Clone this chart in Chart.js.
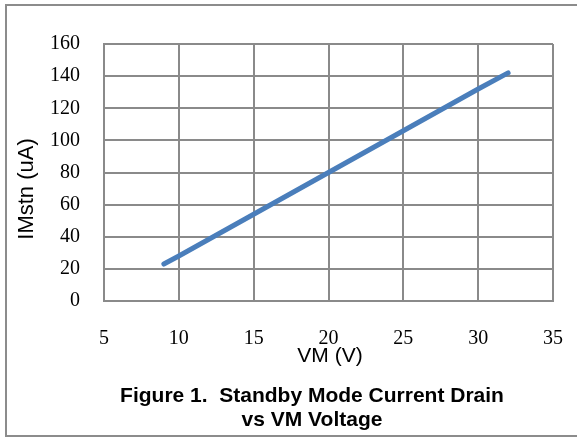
<!DOCTYPE html>
<html>
<head>
<meta charset="utf-8">
<script src="https://cdn.jsdelivr.net/npm/chart.js@4.4.0/dist/chart.umd.min.js"></script>
<style>
  html, body { margin: 0; padding: 0; background: #fff; }
  #wrap { position: relative; width: 577px; height: 439px; }
</style>
</head>
<body>
<div id="wrap"><canvas id="c" width="577" height="439"></canvas></div>
<script>
// ---- data ----
const vmVolts   = [9, 10, 15, 20, 25, 30, 32];
const imstnUA   = [23, 28, 54, 80, 106, 132, 142];
const xTickVals = [5, 10, 15, 20, 25, 30, 35];
const yTickVals = [0, 20, 40, 60, 80, 100, 120, 140, 160];
const yTitle    = 'IMstn (uA)';
const xTitle    = 'VM (V)';
const caption   = ['Figure 1.  Standby Mode Current Drain', 'vs VM Voltage'];

const points = vmVolts.map((v, i) => ({ x: v, y: imstnUA[i] }));

const GRID = '#8a8a8a';
const SANS = '"Liberation Sans", Arial, sans-serif';
const SERIF = '"Liberation Serif", "Times New Roman", serif';

const decor = {
  id: 'decor',
  beforeDraw(chart) {
    const ctx = chart.ctx;
    ctx.save();
    ctx.fillStyle = '#fff';
    ctx.fillRect(0, 0, chart.width, chart.height);
    ctx.fillStyle = '#8c8c8c';
    ctx.fillRect(5, 4, 2, 433);     // left frame
    ctx.fillRect(5, 4, 572, 2);     // top frame
    ctx.fillRect(5, 435, 572, 2);   // bottom frame
    ctx.restore();
  },
  afterDraw(chart) {
    const ctx = chart.ctx;
    ctx.save();
    ctx.fillStyle = '#000';
    ctx.textAlign = 'center';
    ctx.textBaseline = 'middle';
    // y title
    ctx.save();
    ctx.translate(27, 189);
    ctx.rotate(-Math.PI / 2);
    ctx.font = '22px ' + SANS;
    ctx.fillText(yTitle, 0, 0);
    ctx.restore();
    // x title
    ctx.font = '21px ' + SANS;
    ctx.fillText(xTitle, 330, 356);
    // caption
    ctx.font = 'bold 21px ' + SANS;
    ctx.fillText(caption[0], 312, 396);
    ctx.fillText(caption[1], 312, 420);
    ctx.restore();
  }
};

new Chart(document.getElementById('c'), {
  type: 'scatter',
  data: {
    datasets: [{
      data: points,
      showLine: true,
      borderColor: '#4a7ebb',
      backgroundColor: '#4a7ebb',
      borderWidth: 5,
      borderCapStyle: 'round',
      pointRadius: 0,
      pointHoverRadius: 0,
      tension: 0
    }]
  },
  options: {
    responsive: false,
    animation: false,
    events: [],
    layout: { padding: { left: 0, top: 44, right: 24, bottom: 88 } },
    plugins: { legend: { display: false }, tooltip: { enabled: false }, title: { display: false } },
    scales: {
      x: {
        type: 'linear',
        min: 5, max: 35,
        afterFit(s) { s.height = 50; s.paddingLeft = 0; s.paddingRight = 0; },
        afterBuildTicks(s) { s.ticks = xTickVals.map(v => ({ value: v })); },
        grid: { color: GRID, lineWidth: 2, drawTicks: false },
        border: { color: GRID, width: 2 },
        ticks: { color: '#000', padding: 26, font: { family: SERIF, size: 20 } }
      },
      y: {
        type: 'linear',
        min: 0, max: 160,
        afterFit(s) { s.width = 104; s.paddingTop = 0; s.paddingBottom = 0; },
        afterBuildTicks(s) { s.ticks = yTickVals.map(v => ({ value: v })); },
        grid: { color: GRID, lineWidth: 2, drawTicks: false },
        border: { color: GRID, width: 2 },
        ticks: { color: '#000', padding: 24, font: { family: SERIF, size: 20 } }
      }
    }
  },
  plugins: [decor]
});
</script>
</body>
</html>
